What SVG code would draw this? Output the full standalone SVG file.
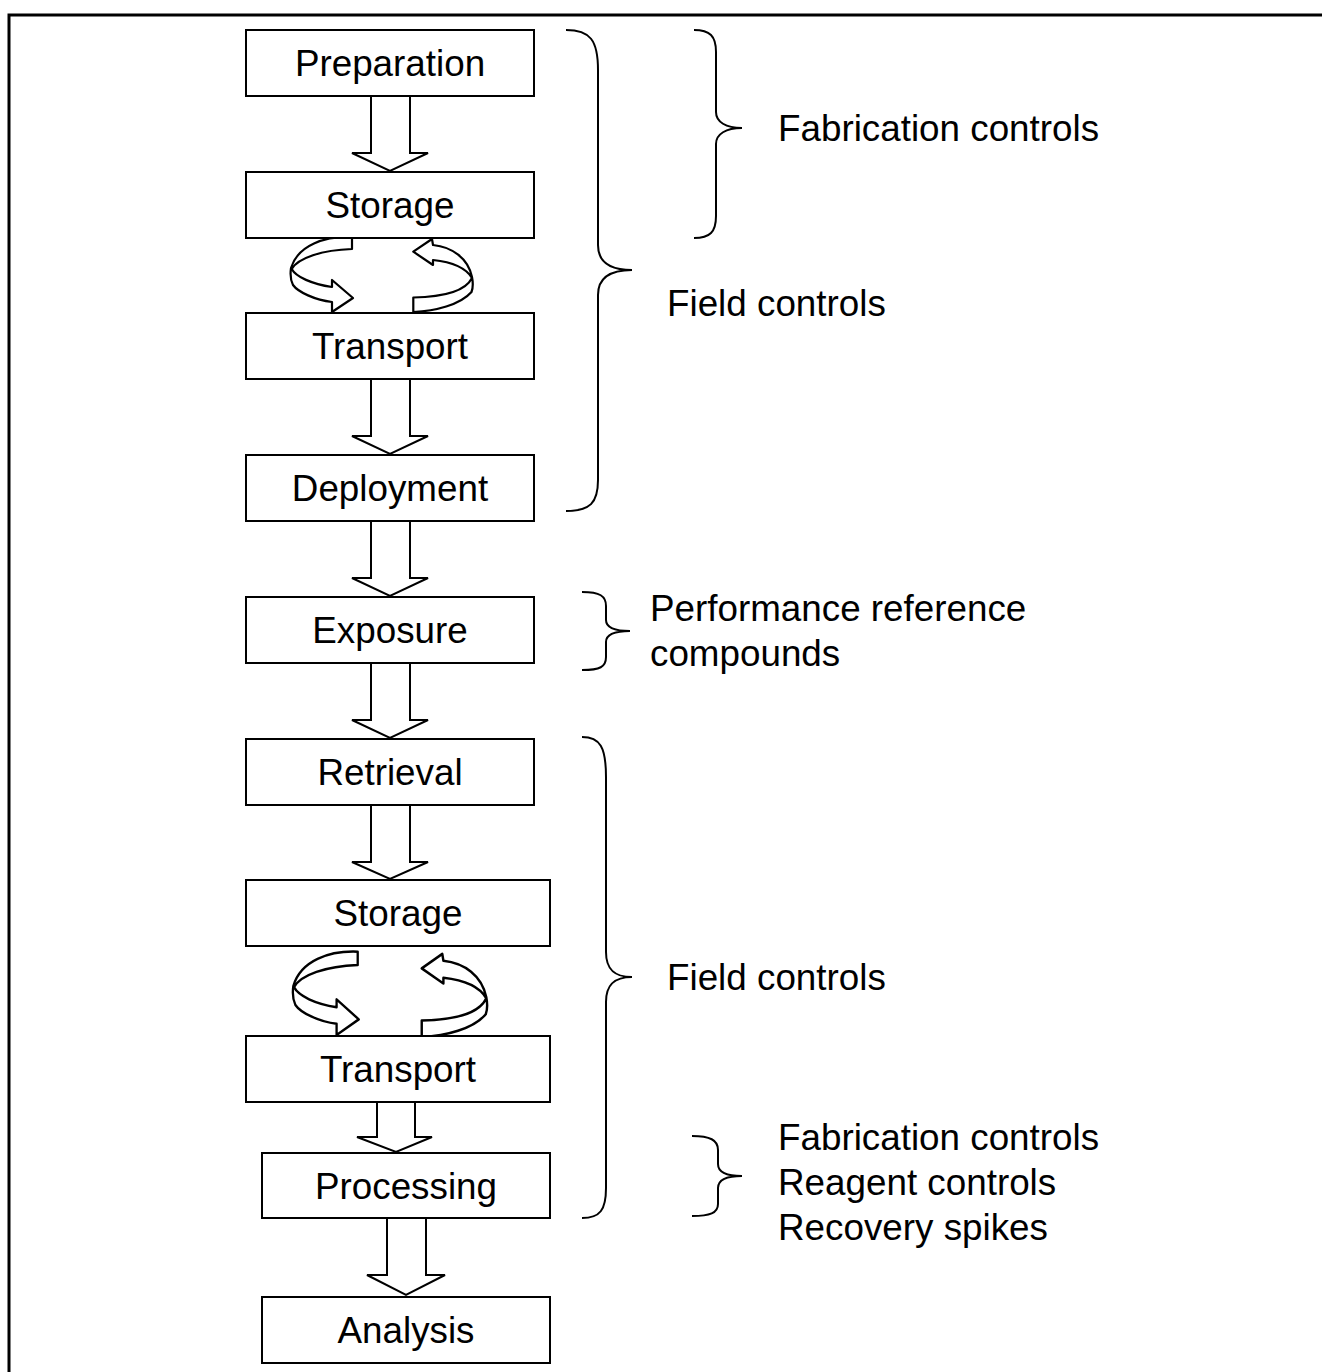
<svg xmlns="http://www.w3.org/2000/svg" width="1322" height="1372" viewBox="0 0 1322 1372">
<style>
.box{fill:#fff;stroke:#000;stroke-width:2}
.lbl{font-family:"Liberation Sans",Arial,sans-serif;font-size:36.8px;fill:#000}
.c{text-anchor:middle}
.arr{fill:#fff;stroke:#000;stroke-width:2;stroke-linejoin:miter}
.brace{fill:none;stroke:#000;stroke-width:2}
.cyc{fill:#fff;stroke:#000;stroke-width:2.2;stroke-linejoin:round}
</style>
<defs>
<path id="cycL" d="M352,237 C325,236 298,245 291,268 C290,275 291,281 293,285 C298,292 315,300 332,302 L332,312 L353,298 L332,280 L332,287 C312,284 296,277 291.7,269 C298,258 322,250 352,249 Z"/>
<path id="cycR" d="M413.3,251.7 L432,239 L433,245 C452,247 468,258 472,277 C473,282 473,288 471.5,292 C460,305 435,311 413.3,312 L413.3,297.5 C440,297 465,292 472,278 C466,268 452,262 433,260 L433,265 Z"/>
</defs>
<rect width="1322" height="1372" fill="#fff"/>
<g id="frame">
<path d="M9,1372 L9,15 L1322,15" fill="none" stroke="#000" stroke-width="3"/>
</g>
<g id="connectors">
<path class="arr" d="M371,96 L410,96 L410,153 L428,153 L390,171 L352,153 L371,153 Z"/>
<path class="arr" d="M371,379 L410,379 L410,436 L428,436 L390,454 L352,436 L371,436 Z"/>
<path class="arr" d="M371,521 L410,521 L410,578 L428,578 L390,596 L352,578 L371,578 Z"/>
<path class="arr" d="M371,663 L410,663 L410,720 L428,720 L390,738 L352,720 L371,720 Z"/>
<path class="arr" d="M371,805 L410,805 L410,862 L428,862 L390,879 L352,862 L371,862 Z"/>
<path class="arr" d="M377,1102 L415,1102 L415,1137 L432,1137 L396,1152 L357,1137 L377,1137 Z"/>
<path class="arr" d="M387,1218 L426,1218 L426,1275 L445,1275 L406,1295 L367,1275 L387,1275 Z"/>
<use href="#cycL" class="cyc"/>
<use href="#cycR" class="cyc"/>
<use href="#cycL" class="cyc" transform="matrix(1.056,0,0,1.11,-14,688.6)" style="vector-effect:non-scaling-stroke"/>
<use href="#cycR" class="cyc" transform="matrix(1.10,0,0,1.14,-32.9,681.4)" style="vector-effect:non-scaling-stroke"/>
</g>
<g id="n-preparation"><rect class="box" x="246" y="30" width="288" height="66"/><text class="lbl c" x="390" y="76">Preparation</text></g>
<g id="n-storage1"><rect class="box" x="246" y="172" width="288" height="66"/><text class="lbl c" x="390" y="218">Storage</text></g>
<g id="n-transport1"><rect class="box" x="246" y="313" width="288" height="66"/><text class="lbl c" x="390" y="359">Transport</text></g>
<g id="n-deployment"><rect class="box" x="246" y="455" width="288" height="66"/><text class="lbl c" x="390" y="501">Deployment</text></g>
<g id="n-exposure"><rect class="box" x="246" y="597" width="288" height="66"/><text class="lbl c" x="390" y="643">Exposure</text></g>
<g id="n-retrieval"><rect class="box" x="246" y="739" width="288" height="66"/><text class="lbl c" x="390" y="785">Retrieval</text></g>
<g id="n-storage2"><rect class="box" x="246" y="880" width="304" height="66"/><text class="lbl c" x="398" y="926">Storage</text></g>
<g id="n-transport2"><rect class="box" x="246" y="1036" width="304" height="66"/><text class="lbl c" x="398" y="1082">Transport</text></g>
<g id="n-processing"><rect class="box" x="262" y="1153" width="288" height="65"/><text class="lbl c" x="406" y="1199">Processing</text></g>
<g id="n-analysis"><rect class="box" x="262" y="1297" width="288" height="66"/><text class="lbl c" x="406" y="1343">Analysis</text></g>
<g id="braces">
<path class="brace" d="M566,30 C590,30 598,40 598,70 L598,245 C598,262 610,270 632,270 C610,270 598,278 598,295 L598,480 C598,503 590,511 566,511"/>
<path class="brace" d="M694,30 C710,30 716,36 716,52 L716,112 C716,122 726,128 742,128 C726,128 716,134 716,144 L716,216 C716,232 710,238 694,238"/>
<path class="brace" d="M582,592 C600,592 606,596 606,606 L606,620 C606,627 614,631 630,631 C614,631 606,635 606,642 L606,657 C606,667 600,670 582,670"/>
<path class="brace" d="M582,737 C600,737 606,747 606,777 L606,952 C606,969 614,977 632,977 C614,977 606,985 606,1002 L606,1188 C606,1210 600,1218 582,1218"/>
<path class="brace" d="M692,1136 C710,1136 718,1140 718,1150 L718,1164 C718,1172 726,1176 742,1176 C726,1176 718,1180 718,1188 L718,1204 C718,1213 710,1216 692,1216"/>
</g>
<g id="labels">
<text class="lbl" x="778" y="141">Fabrication controls</text>
<text class="lbl" x="667" y="316">Field controls</text>
<text class="lbl" x="650" y="621">Performance reference</text>
<text class="lbl" x="650" y="666">compounds</text>
<text class="lbl" x="667" y="990">Field controls</text>
<text class="lbl" x="778" y="1150">Fabrication controls</text>
<text class="lbl" x="778" y="1195">Reagent controls</text>
<text class="lbl" x="778" y="1240">Recovery spikes</text>
</g>
</svg>
